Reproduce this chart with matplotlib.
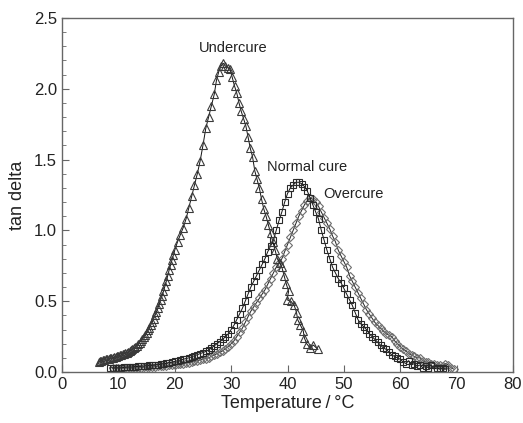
import numpy as np
import matplotlib
matplotlib.use("Agg")
import matplotlib.pyplot as plt

plt.rcParams['font.family'] = ['Liberation Sans', 'DejaVu Sans']

# Undercure (triangles)
under_T = [6.5, 6.75, 7.0, 7.25, 7.5, 7.75, 8.0, 8.25, 8.5, 8.75, 9.0, 9.25, 9.5, 9.75,
           10.0, 10.25, 10.5, 10.75, 11.0, 11.25, 11.5, 11.75, 12.0, 12.25, 12.5, 12.75,
           13.0, 13.25, 13.5, 13.75, 14.0, 14.25, 14.5, 14.75, 15.0, 15.25, 15.5, 15.75,
           16.0, 16.25, 16.5, 16.75, 17.0, 17.25, 17.5, 17.75, 18.0, 18.25, 18.5, 18.75,
           19.0, 19.25, 19.5, 19.75, 20.0, 20.5, 21.0, 21.5, 22.0, 22.5, 23.0, 23.5, 24.0,
           24.5, 25.0, 25.5, 26.0, 26.5, 27.0, 27.4, 27.8, 28.2, 28.6, 29.0, 29.4, 29.8,
           30.2, 30.6, 31.0, 31.4, 31.8, 32.2, 32.6, 33.0, 33.4, 33.8, 34.2, 34.6, 35.0,
           35.4, 35.8, 36.2, 36.6, 37.0, 37.4, 37.8, 38.2, 38.6, 39.0, 39.4, 39.8, 40.2,
           39.9, 40.6, 41.2, 41.6, 41.8, 42.3, 42.8, 43.0, 43.4, 44.0, 44.6, 45.4]
under_tan = [0.07, 0.075, 0.08, 0.085, 0.088, 0.09, 0.092, 0.094, 0.096, 0.098, 0.10,
             0.103, 0.107, 0.11, 0.114, 0.117, 0.12, 0.124, 0.128, 0.132, 0.137, 0.142,
             0.148, 0.155, 0.162, 0.17, 0.178, 0.187, 0.197, 0.208, 0.22, 0.233, 0.247,
             0.262, 0.278, 0.295, 0.313, 0.332, 0.352, 0.375, 0.40, 0.425, 0.45, 0.48,
             0.51, 0.54, 0.57, 0.605, 0.64, 0.68, 0.72, 0.755, 0.79, 0.825, 0.86, 0.92,
             0.97, 1.02, 1.08, 1.16, 1.24, 1.32, 1.40, 1.49, 1.60, 1.72, 1.80, 1.88, 1.96,
             2.06, 2.12, 2.16, 2.18, 2.16, 2.15, 2.14, 2.08, 2.02, 1.97, 1.90, 1.84, 1.79,
             1.74, 1.66, 1.58, 1.52, 1.42, 1.36, 1.30, 1.22, 1.15, 1.10, 1.04, 0.98, 0.92,
             0.86, 0.80, 0.77, 0.74, 0.68, 0.62, 0.57, 0.51, 0.50, 0.47, 0.42, 0.37, 0.33,
             0.29, 0.24, 0.20, 0.17, 0.19, 0.16]

# Normal cure (squares)
normal_T = [8.5, 9.0, 9.5, 10.0, 10.5, 11.0, 11.5, 12.0, 12.5, 13.0, 13.5, 14.0, 14.5,
            15.0, 15.5, 16.0, 16.5, 17.0, 17.5, 18.0, 18.5, 19.0, 19.5, 20.0, 20.5, 21.0,
            21.5, 22.0, 22.5, 23.0, 23.5, 24.0, 24.5, 25.0, 25.5, 26.0, 26.5, 27.0, 27.5,
            28.0, 28.5, 29.0, 29.5, 30.0, 30.5, 31.0, 31.5, 32.0, 32.5, 33.0, 33.5, 34.0,
            34.5, 35.0, 35.5, 36.0, 36.5, 37.0, 37.5, 38.0, 38.5, 39.0, 39.5, 40.0, 40.5,
            41.0, 41.5, 42.0, 42.5, 43.0, 43.5, 44.0, 44.5, 45.0, 45.5, 46.0, 46.5, 47.0,
            47.5, 48.0, 48.5, 49.0, 49.5, 50.0, 50.5, 51.0, 51.5, 52.0, 52.5, 53.0, 53.5,
            54.0, 54.5, 55.0, 55.5, 56.0, 56.5, 57.0, 57.5, 58.0, 58.5, 59.0, 59.5, 60.0,
            60.5, 61.0, 61.5, 62.0, 62.5, 63.0, 63.5, 64.0, 64.5, 65.0, 65.5, 66.0, 66.5,
            67.0, 67.5, 68.0]
normal_tan = [0.03, 0.03, 0.03, 0.03, 0.03, 0.032, 0.034, 0.035, 0.036, 0.038, 0.04,
              0.04, 0.042, 0.044, 0.046, 0.048, 0.05, 0.052, 0.055, 0.058, 0.062, 0.066,
              0.07, 0.075, 0.08, 0.085, 0.09, 0.095, 0.10, 0.107, 0.115, 0.122, 0.13,
              0.137, 0.145, 0.155, 0.17, 0.185, 0.20, 0.215, 0.23, 0.25, 0.27, 0.30, 0.33,
              0.37, 0.41, 0.45, 0.50, 0.55, 0.60, 0.64, 0.68, 0.72, 0.76, 0.80, 0.85, 0.89,
              0.93, 1.00, 1.07, 1.13, 1.20, 1.26, 1.30, 1.32, 1.34, 1.34, 1.33, 1.31, 1.28,
              1.23, 1.18, 1.13, 1.08, 1.00, 0.93, 0.86, 0.80, 0.74, 0.70, 0.66, 0.63, 0.59,
              0.55, 0.51, 0.47, 0.42, 0.37, 0.34, 0.32, 0.30, 0.27, 0.25, 0.23, 0.21, 0.19,
              0.17, 0.16, 0.14, 0.12, 0.11, 0.10, 0.09, 0.07, 0.06, 0.08, 0.05, 0.06, 0.04,
              0.05, 0.03, 0.04, 0.03, 0.05, 0.02, 0.03, 0.02, 0.03, 0.02]

# Overcure (diamonds)
over_T = [9.0, 9.5, 10.0, 10.5, 11.0, 11.5, 12.0, 12.5, 13.0, 13.5, 14.0, 14.5, 15.0,
          15.5, 16.0, 16.5, 17.0, 17.5, 18.0, 18.5, 19.0, 19.5, 20.0, 20.5, 21.0, 21.5,
          22.0, 22.5, 23.0, 23.5, 24.0, 24.5, 25.0, 25.5, 26.0, 26.5, 27.0, 27.5, 28.0,
          28.5, 29.0, 29.5, 30.0, 30.5, 31.0, 31.5, 32.0, 32.5, 33.0, 33.5, 34.0, 34.5,
          35.0, 35.5, 36.0, 36.5, 37.0, 37.5, 38.0, 38.5, 39.0, 39.5, 40.0, 40.5, 41.0,
          41.5, 42.0, 42.5, 43.0, 43.5, 44.0, 44.5, 45.0, 45.5, 46.0, 46.5, 47.0, 47.5,
          48.0, 48.5, 49.0, 49.5, 50.0, 50.5, 51.0, 51.5, 52.0, 52.5, 53.0, 53.5, 54.0,
          54.5, 55.0, 55.5, 56.0, 56.5, 57.0, 57.5, 58.0, 58.5, 59.0, 59.5, 60.0, 60.5,
          61.0, 61.5, 62.0, 62.5, 63.0, 63.5, 64.0, 64.5, 65.0, 65.5, 66.0, 66.5, 67.0,
          67.5, 68.0, 68.5, 69.0, 69.5]
over_tan = [0.025, 0.025, 0.025, 0.025, 0.026, 0.027, 0.028, 0.029, 0.03, 0.03, 0.031,
            0.033, 0.034, 0.035, 0.036, 0.038, 0.04, 0.04, 0.042, 0.044, 0.046, 0.048,
            0.05, 0.053, 0.056, 0.058, 0.062, 0.066, 0.07, 0.075, 0.08, 0.085, 0.09, 0.095,
            0.10, 0.11, 0.12, 0.13, 0.14, 0.15, 0.165, 0.18, 0.20, 0.22, 0.25, 0.28, 0.31,
            0.35, 0.39, 0.43, 0.46, 0.49, 0.52, 0.55, 0.58, 0.62, 0.66, 0.70, 0.74, 0.77,
            0.80, 0.85, 0.90, 0.95, 1.00, 1.05, 1.10, 1.14, 1.18, 1.21, 1.23, 1.22, 1.20,
            1.17, 1.13, 1.09, 1.05, 1.01, 0.96, 0.92, 0.86, 0.82, 0.78, 0.74, 0.68, 0.64,
            0.60, 0.56, 0.52, 0.48, 0.44, 0.41, 0.38, 0.35, 0.33, 0.31, 0.29, 0.27, 0.26,
            0.25, 0.22, 0.20, 0.18, 0.16, 0.15, 0.13, 0.12, 0.11, 0.10, 0.10, 0.08, 0.07,
            0.07, 0.06, 0.06, 0.05, 0.05, 0.04, 0.06, 0.05, 0.03, 0.02]

fig = plt.figure(figsize=(5.23, 4.23), dpi=100)
ax = fig.add_axes([62/523, 51/423, 451/523, 354/423])

ax.plot(over_T, over_tan, color='#222222', lw=0.7, marker='D', ms=4.2, mfc='none',
        mec='#6e6e6e', mew=0.8)
ax.plot(normal_T, normal_tan, color='#111111', lw=0.7, marker='s', ms=4.8, mfc='none',
        mec='#2a2a2a', mew=0.8)
ax.plot(under_T, under_tan, color='#111111', lw=0.7, marker='^', ms=5.2, mfc='none',
        mec='#3a3a3a', mew=0.8)

ax.text(30.3, 2.29, 'Undercure', fontsize=10.5, ha='center', va='center', color='#222222')
ax.text(36.4, 1.45, 'Normal cure', fontsize=10.5, ha='left', va='center', color='#222222')
ax.text(46.3, 1.26, 'Overcure', fontsize=10.5, ha='left', va='center', color='#222222')

ax.set_xlim(0, 80)
ax.set_ylim(0, 2.5)
ax.set_xticks(np.arange(0, 81, 10))
ax.set_yticks(np.arange(0, 2.51, 0.5))
ax.set_yticks(np.arange(0, 2.51, 0.1), minor=True)
ax.yaxis.set_major_formatter(plt.FuncFormatter(lambda y, _: f'{y:.1f}'))
ax.tick_params(direction='in', length=5, width=0.8, colors='#666666',
               labelcolor='#222222', labelsize=12)
ax.tick_params(which='minor', direction='in', length=3, width=0.6, colors='#666666')
for s in ax.spines.values():
    s.set_color('#666666')
    s.set_linewidth(1.0)

ax.set_xlabel('Temperature\u2009/\u2009°C', fontsize=13, color='#222222', labelpad=2)
ax.set_ylabel('tan delta', fontsize=13, color='#222222', labelpad=6)

fig.savefig('out.png', dpi=100)
